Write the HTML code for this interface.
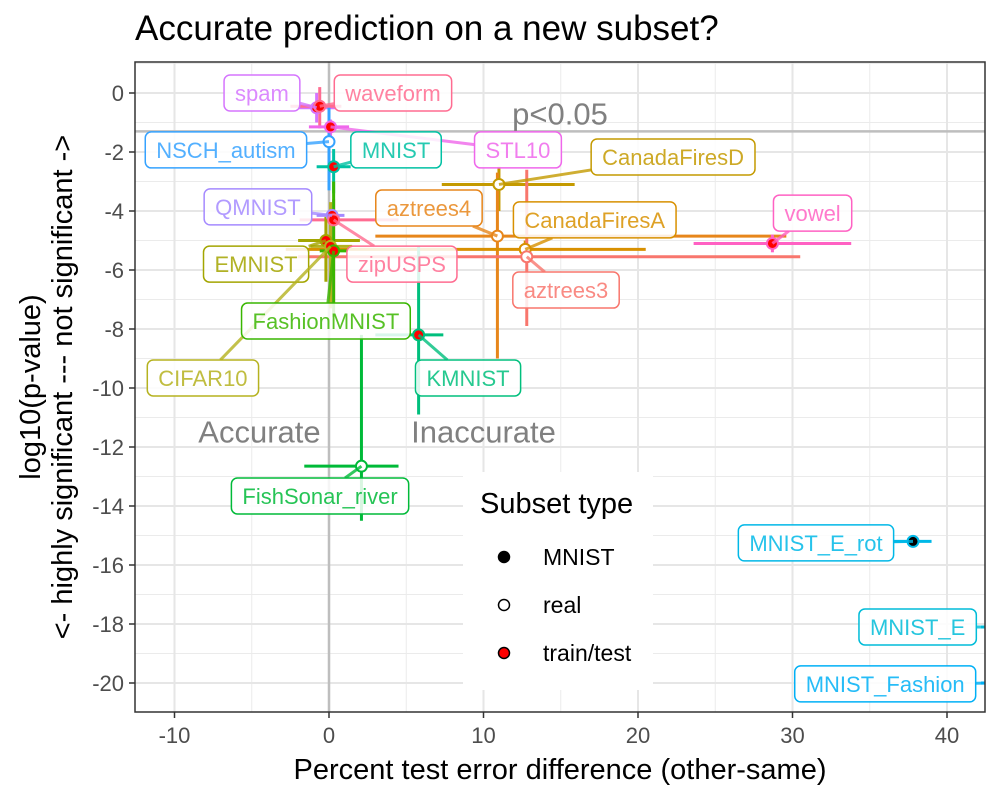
<!DOCTYPE html>
<html><head><meta charset="utf-8"><style>
html,body{margin:0;padding:0;background:#fff;}
svg{display:block;font-family:"Liberation Sans",sans-serif;}
</style></head><body>
<svg id="chart" width="1000" height="800" viewBox="0 0 1000 800">
<defs><clipPath id="pclip"><rect x="135" y="62" width="850" height="650"/></clipPath></defs>
<text x="135" y="40" font-size="35" fill="#000">Accurate prediction on a new subset?</text>
<g id="grid"></g>
<g id="marks" clip-path="url(#pclip)"></g>
<rect x="135" y="62" width="850" height="650" fill="none" stroke="#333" stroke-width="1.5"/>
<g id="axes"></g>
<text x="560" y="779" font-size="29" text-anchor="middle" fill="#000">Percent test error difference (other-same)</text>
<g transform="translate(40,387) rotate(-90)">
<text x="0" y="0" font-size="29" text-anchor="middle" fill="#000">log10(p-value)</text>
<text x="0" y="32" font-size="29" text-anchor="middle" fill="#000">&lt;- highly significant --- not significant -&gt;</text>
</g>
<g id="legend">
<rect x="463" y="472" width="190" height="218" fill="#fff"/>
<text x="480" y="513" font-size="29" fill="#000">Subset type</text>
<g><circle cx="504" cy="557" r="5.5" fill="#000" stroke="#000" stroke-width="1.5"/><text x="543" y="565" font-size="23">MNIST</text></g>
<g><circle cx="504" cy="605" r="5.5" fill="#fff" stroke="#000" stroke-width="1.5"/><text x="543" y="613" font-size="23">real</text></g>
<g><circle cx="504" cy="653" r="5.5" fill="#f00" stroke="#000" stroke-width="1.5"/><text x="543" y="661" font-size="23">train/test</text></g>
</g>
</svg>
<script>
const names  = ["spam","waveform","STL10","NSCH_autism","MNIST","CanadaFiresD","QMNIST","zipUSPS","aztrees4","CanadaFiresA","aztrees3","vowel","EMNIST","CIFAR10","FashionMNIST","KMNIST","FishSonar_river","MNIST_E_rot","MNIST_E","MNIST_Fashion"];
const xVals  = [-0.8,-0.6,0.1,0.0,0.3,11.0,0.2,0.3,10.9,12.7,12.8,28.7,-0.2,0.1,0.3,5.8,2.1,37.8,43.5,43.5];
const xLo    = [-2.0,-2.5,-1.3,-0.2,-0.8,7.3,-0.8,-1.9,3.0,-2.8,-2.0,23.6,-2.0,-1.2,-0.6,3.0,-1.6,36.5,42.2,42.2];
const xHi    = [0.5,0.8,1.3,0.2,1.4,15.9,1.0,4.5,29.6,20.5,30.5,33.8,2.0,1.5,1.2,7.4,4.5,39.0,44.8,44.8];
const yVals  = [-0.5,-0.45,-1.15,-1.65,-2.5,-3.1,-4.15,-4.3,-4.85,-5.3,-5.55,-5.1,-5.0,-5.2,-5.35,-8.2,-12.65,-15.2,-18.1,-20.0];
const yLo    = [-1.0,-1.2,-1.6,-3.3,-3.4,-4.0,-4.4,-7.2,-9.0,-5.5,-7.9,-5.4,-6.4,-7.3,-7.6,-10.9,-14.5,-15.25,-18.15,-20.05];
const yHi    = [0.0,0.2,-0.9,-0.5,-1.9,-2.5,-3.9,-3.6,-2.7,-5.0,-2.6,-4.8,-4.2,-3.7,-3.0,-5.2,-8.2,-15.15,-18.05,-19.95];
const types  = ["train/test","train/test","train/test","real","train/test","real","train/test","train/test","real","real","real","train/test","train/test","train/test","train/test","train/test","real","MNIST","MNIST","MNIST"];
const colors = ["#D575FE","#FF6C91","#EF67EB","#35A2FF","#00C1A3","#C49A00","#A58AFF","#FF6C91","#E7861B","#D89000","#F8766D","#FF61C3","#A3A500","#B5B21F","#39B600","#00BF7D","#00BA38","#00B8E7","#00BCD8","#00B0F6"];
const labelX = [-4.34,4.14,12.23,-6.67,4.34,22.27,-4.6,4.72,6.47,17.2,15.34,31.3,-4.72,-8.16,-0.2,9.0,-0.58,31.52,38.1,36.0];
const labelY = [0,0,-1.93,-1.93,-1.93,-2.17,-3.86,-5.8,-3.9,-4.3,-6.68,-4.07,-5.8,-9.66,-7.73,-9.66,-13.66,-15.25,-18.1,-20.03];
const xTicks = [-10,0,10,20,30,40];
const yTicks = [0,-2,-4,-6,-8,-10,-12,-14,-16,-18,-20];
const xMinor = [-5,5,15,25,35];
const yMinor = [1,-1,-3,-5,-7,-9,-11,-13,-15,-17,-19];
const pThresh = Math.log10(0.05);

const NS="http://www.w3.org/2000/svg";
function X(v){return 329+v*15.45;}
function Y(v){return 93-v*29.5;}
function mk(tag,attrs,parent){const e=document.createElementNS(NS,tag);for(const k in attrs)e.setAttribute(k,attrs[k]);parent.appendChild(e);return e;}
const grid=document.getElementById('grid'),marks=document.getElementById('marks'),axes=document.getElementById('axes');
xMinor.forEach(v=>{const l=mk('line',{x1:X(v),x2:X(v),y1:62,y2:712,stroke:'#ebebeb','stroke-width':1},grid);

});
yMinor.forEach(v=>{const l=mk('line',{x1:135,x2:985,y1:Y(v),y2:Y(v),stroke:'#ebebeb','stroke-width':1},grid);

});
xTicks.forEach(v=>{const l=mk('line',{x1:X(v),x2:X(v),y1:62,y2:712,stroke:'#e6e6e6','stroke-width':2},grid);


const t=mk('line',{x1:X(v),x2:X(v),y1:712,y2:718,stroke:'#333','stroke-width':1.5},axes);


const tx=mk('text',{x:X(v),y:743,'font-size':22,'text-anchor':'middle',fill:'#4d4d4d'},axes);tx.textContent=v;

});
yTicks.forEach(v=>{const l=mk('line',{x1:135,x2:985,y1:Y(v),y2:Y(v),stroke:'#e6e6e6','stroke-width':2},grid);


const t=mk('line',{x1:129,x2:135,y1:Y(v),y2:Y(v),stroke:'#333','stroke-width':1.5},axes);


const tx=mk('text',{x:124,y:Y(v)+8,'font-size':22,'text-anchor':'end',fill:'#4d4d4d'},axes);tx.textContent=v;

});
const vl=mk('line',{x1:X(0),x2:X(0),y1:62,y2:712,stroke:'#bebebe','stroke-width':2.5},marks);


const hl=mk('line',{x1:135,x2:985,y1:Y(pThresh),y2:Y(pThresh),stroke:'#bebebe','stroke-width':2.5},marks);


const pt=mk('text',{x:560,y:Y(pThresh)-7,'font-size':31,'text-anchor':'middle',fill:'#808080'},marks);pt.textContent='p<0.05';


const at=mk('text',{x:X(-4.5),y:Y(-11.5)+10,'font-size':31,'text-anchor':'middle',fill:'#808080'},marks);at.textContent='Accurate';


const it=mk('text',{x:X(10),y:Y(-11.5)+10,'font-size':31,'text-anchor':'middle',fill:'#808080'},marks);it.textContent='Inaccurate';


const bars=mk('g',{},marks);
names.forEach((n,i)=>{
 const h=mk('line',{x1:X(xLo[i]),x2:X(xHi[i]),y1:Y(yVals[i]),y2:Y(yVals[i]),stroke:colors[i],'stroke-width':3},bars);
 
 
 const v=mk('line',{x1:X(xVals[i]),x2:X(xVals[i]),y1:Y(yLo[i]),y2:Y(yHi[i]),stroke:colors[i],'stroke-width':3},bars);
 
 
});
const fills={"MNIST":"#000","real":"#fff","train/test":"#f00"};
names.forEach((n,i)=>{
 const c=mk('circle',{cx:X(xVals[i]),cy:Y(yVals[i]),r:5.5,fill:fills[types[i]],stroke:colors[i],'stroke-width':2},marks);
 
 
});
const lg=mk('g',{},marks);
names.forEach((n,i)=>{
 const g=mk('g',{},lg);
 
 
 const cx=X(labelX[i]),cy=Y(labelY[i]);
 const seg=mk('line',{x1:cx,y1:cy,x2:X(xVals[i]),y2:Y(yVals[i]),stroke:colors[i],'stroke-width':3,opacity:0.8},g);
 const r=mk('rect',{rx:6,ry:6,fill:'#fff','fill-opacity':0.85,stroke:colors[i],'stroke-width':1.5},g);
 const t=mk('text',{x:cx,y:cy+8,'font-size':22,'text-anchor':'middle',fill:colors[i],'fill-opacity':0.85},g);t.textContent=n;
 const w=t.getComputedTextLength()+22;
 r.setAttribute('x',cx-w/2);r.setAttribute('y',cy-18);r.setAttribute('width',w);r.setAttribute('height',36);
 const dx=X(xVals[i])-cx,dy=Y(yVals[i])-cy;
 let s=Infinity; if(dx!==0)s=Math.min(s,(w/2)/Math.abs(dx)); if(dy!==0)s=Math.min(s,18/Math.abs(dy));
 if(s>=1){seg.remove();}else{seg.setAttribute('x1',cx+dx*s);seg.setAttribute('y1',cy+dy*s);}
});
</script>
</body></html>
